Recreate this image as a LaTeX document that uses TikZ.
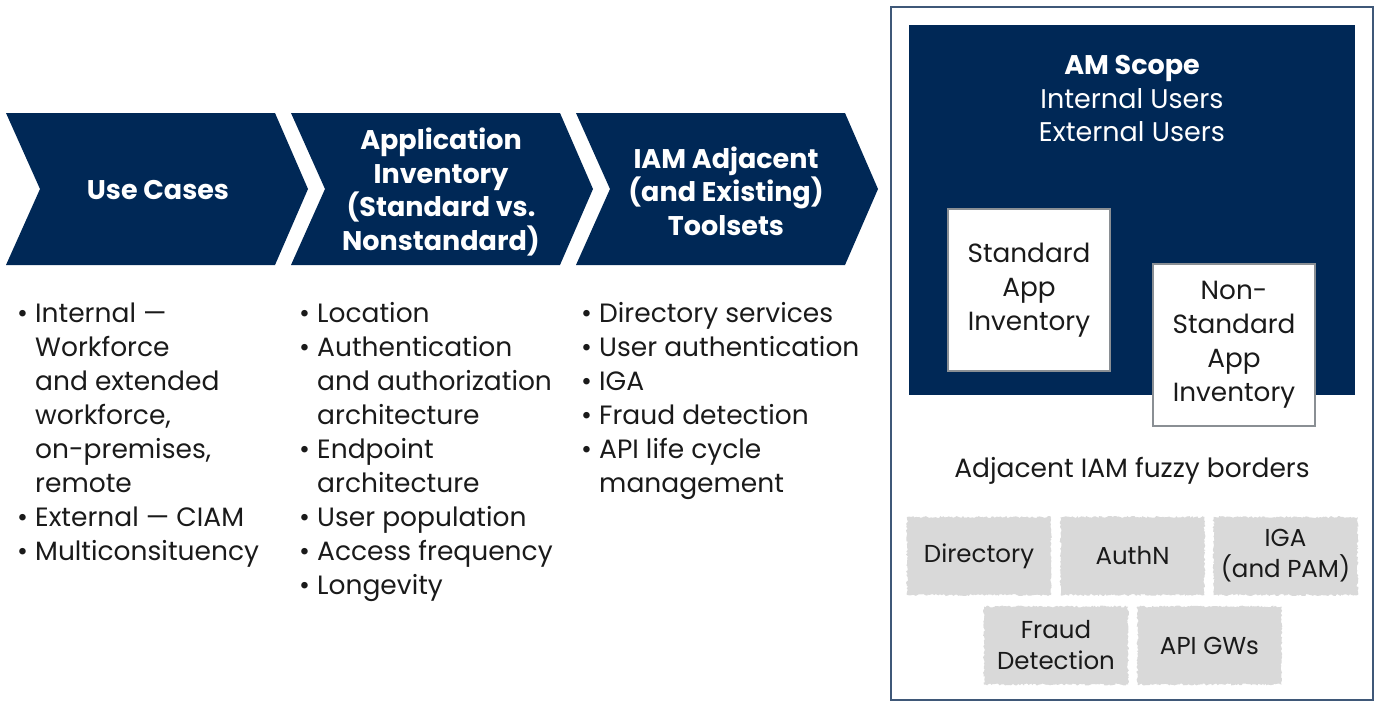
\documentclass[tikz,border=0pt]{standalone}
\usepackage{fontspec}
\setmainfont{Poppins}
\usetikzlibrary{decorations.pathmorphing}
\definecolor{navy}{HTML}{002856}
\definecolor{ink}{HTML}{1A1A1A}
\definecolor{fuzz}{HTML}{D9D9D9}
\definecolor{framec}{HTML}{3F5878}
\definecolor{boxline}{HTML}{8A8F94}
\tikzset{
  chev/.style={fill=navy},
  head/.style={align=center, text=white, font=\bfseries\fontsize{27}{33.7}\selectfont},
  body/.style={anchor=base west, inner sep=0, text=ink, font=\fontsize{26.5}{34}\selectfont},
  appbox/.style={draw=boxline, line width=1.5pt, fill=white, text=ink, align=center,
     minimum width=162pt, minimum height=162pt, inner sep=0, font=\fontsize{26.3}{34}\selectfont},
  fuzzbox/.style={fill=fuzz, decorate, decoration={random steps, segment length=1.5pt, amplitude=1pt},
     minimum width=144pt, minimum height=78pt, inner sep=0, align=center, text=ink,
     font=\fontsize{24.5}{31}\selectfont},
}
\newcommand\bl{\textbullet}
\begin{document}
\begin{tikzpicture}[x=1pt,y=-1pt]
\useasboundingbox (0,0) rectangle (1377,702);
% chevrons
\fill[chev] (6,113) -- (275,113) -- (308,189) -- (275,265) -- (6,265) -- (40,189) -- cycle;
\fill[chev] (291,113) -- (560,113) -- (593,189) -- (560,265) -- (291,265) -- (325,189) -- cycle;
\fill[chev] (576,113) -- (845,113) -- (878,189) -- (845,265) -- (576,265) -- (610,189) -- cycle;
\node[head] (h1) at (158,190) {Use Cases};
\node[head] (h2) at (441,192) {Application\\Inventory\\(Standard vs.\\Nonstandard)};
\node[head] (h3) at (726,191) {IAM Adjacent\\(and Existing)\\Toolsets};
% bullet columns
\node[body] (c1) at (17,322) {\begin{tabular}[t]{@{}p{18pt}@{}l@{}}
\bl&Internal —\\
&Workforce\\
&and extended\\
&workforce,\\
&on-premises,\\
&remote\\
\bl&External — CIAM\\
\bl&Multiconsituency
\end{tabular}};
\node[body] (c2) at (299,322) {\begin{tabular}[t]{@{}p{18pt}@{}l@{}}
\bl&Location\\
\bl&Authentication\\
&and authorization\\
&architecture\\
\bl&Endpoint\\
&architecture\\
\bl&User population\\
\bl&Access frequency\\
\bl&Longevity
\end{tabular}};
\node[body] (c3) at (581,322) {\begin{tabular}[t]{@{}p{18pt}@{}l@{}}
\bl&Directory services\\
\bl&User authentication\\
\bl&IGA\\
\bl&Fraud detection\\
\bl&API life cycle\\
&management
\end{tabular}};
% right panel
\draw[framec, line width=2pt] (891,7) rectangle (1373,700);
\fill[navy] (909,25) rectangle (1355,395);
\node[align=center, text=white, font=\fontsize{27}{33.5}\selectfont] (am) at (1132,99)
  {\textbf{AM Scope}\\Internal Users\\External Users};
\node[appbox] (std) at (1029,290) {Standard\\App\\Inventory};
\node[appbox] (nstd) at (1234,345) {Non-\\Standard\\App\\Inventory};
\node[text=ink, font=\fontsize{26.5}{34}\selectfont] (adj) at (1132,471) {Adjacent IAM fuzzy borders};
\node[fuzzbox] (dir) at (979,556) {Directory};
\node[fuzzbox] (authn) at (1132.5,556) {AuthN};
\node[fuzzbox] (iga) at (1285.5,556) {IGA\\(and PAM)};
\node[fuzzbox] (fraud) at (1056,645.5) {Fraud\\Detection};
\node[fuzzbox] (api) at (1209.5,645.5) {API GWs};
\end{tikzpicture}
\end{document}
